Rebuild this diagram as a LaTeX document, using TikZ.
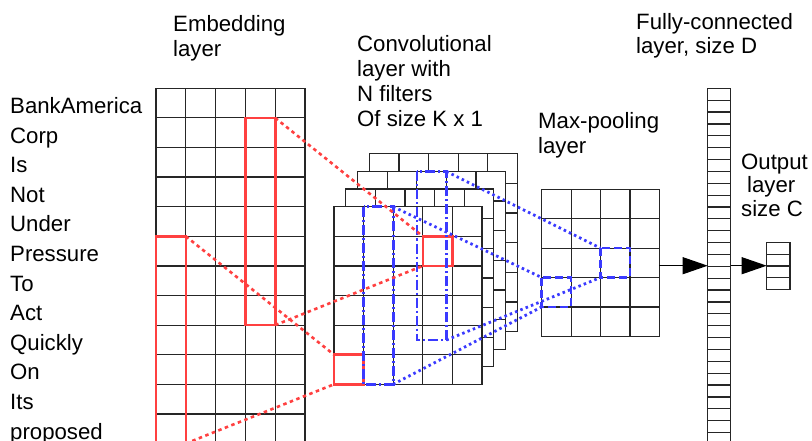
\documentclass[tikz,border=0pt]{standalone}
\usepackage{fontspec}
\setmainfont{Liberation Sans}
\usetikzlibrary{arrows.meta}
\definecolor{rd}{RGB}{255,64,64}
\definecolor{bl}{RGB}{58,58,255}
\tikzset{
  gridl/.style={draw=black!85, line width=1.2pt},
  redbox/.style={draw=rd, line width=2.6pt},
  redcon/.style={draw=rd, line width=2.6pt, dash pattern=on 3.5pt off 3.5pt},
  bluebox/.style={draw=bl, line width=2.6pt, dash pattern=on 10pt off 3pt on 2pt off 3pt},
  poolbox/.style={draw=bl, line width=2.6pt, dash pattern=on 8pt off 4pt},
  bluecon/.style={draw=bl, line width=2.8pt, dash pattern=on 2.5pt off 3.2pt},
  lbl/.style={inner sep=0pt, anchor=base west, font=\fontsize{22.2}{25}\selectfont},
  arr/.style={draw=black, line width=1.1pt, -{Triangle[length=25pt,width=17pt]}}
}
\begin{document}
\begin{tikzpicture}[x=1pt,y=-1pt]
\useasboundingbox (0,0) rectangle (812,441);
\clip (0,0) rectangle (812,441);
\fill[white] (0,0) rectangle (812,441);

% ---------- labels ----------
\node[lbl] (t1) at (173,32) {Embedding};
\node[lbl] (t2) at (173,57) {layer};
\node[lbl] (t3) at (357,51.7) {Convolutional};
\node[lbl] (t4) at (357,76.7) {layer with};
\node[lbl] (t5) at (357,101.7) {N filters};
\node[lbl] (t6) at (357,126.7) {Of size K x 1};
\node[lbl] (t7) at (538,128.3) {Max-pooling};
\node[lbl] (t8) at (538,153.3) {layer};
\node[lbl] (t9) at (636,29.3) {Fully-connected};
\node[lbl] (t10) at (636,54) {layer, size D};
\node[lbl] (t11) at (741,169.3) {Output};
\node[lbl] (t12) at (747,193) {layer};
\node[lbl] (t13) at (741,216.7) {size C};

\foreach \w [count=\i from 0] in {BankAmerica,Corp,Is,Not,Under,Pressure,To,Act,Quickly,On,Its,proposed}
  \node[lbl] (w\i) at (10,{113.5+\i*29.6}) {\w};

% ---------- embedding grid ----------
\draw[gridl] (156,88.3) rectangle (305,443.5);
\foreach \i in {1,...,4} \draw[gridl] ({156+\i*29.8},88.3) -- ({156+\i*29.8},443.5);
\foreach \j in {1,...,11} \draw[gridl] (156,{88.3+\j*29.6}) -- (305,{88.3+\j*29.6});

% ---------- convolutional sheets ----------
\foreach \k in {3,2,1,0} {
  \pgfmathsetmacro\ox{334+11.8*\k}
  \pgfmathsetmacro\oy{206.7-17.6*\k}
  \filldraw[gridl, fill=white] (\ox,\oy) rectangle ++(148,177.6);
  \foreach \i in {1,...,4} \draw[gridl] ({\ox+\i*29.6},\oy) -- ++(0,177.6);
  \foreach \j in {1,...,5} \draw[gridl] (\ox,{\oy+\j*29.6}) -- ++(148,0);
}

% ---------- max-pooling grid ----------
\draw[gridl] (541.7,189.3) rectangle (659.3,336.3);
\foreach \i in {1,...,3} \draw[gridl] ({541.7+\i*29.4},189.3) -- ({541.7+\i*29.4},336.3);
\foreach \j in {1,...,4} \draw[gridl] (541.7,{189.3+\j*29.4}) -- (659.3,{189.3+\j*29.4});

% ---------- fully connected ----------
\draw[gridl] (707.7,88.3) rectangle (730.7,445);
\foreach \j in {1,...,30} \draw[gridl] (707.7,{88.3+\j*11.87}) -- (730.7,{88.3+\j*11.87});

% ---------- output layer ----------
\draw[gridl] (766.7,242.7) rectangle (790,289.3);
\foreach \j in {1,...,3} \draw[gridl] (766.7,{242.7+\j*11.65}) -- (790,{242.7+\j*11.65});

% ---------- highlighted boxes ----------
\draw[redbox] (245.4,117.9) rectangle (275.2,325.1);
\draw[redbox] (156,236.3) rectangle (185.8,443.5);
\draw[redbox] (422.8,236.3) rectangle (452.4,265.9);
\draw[redbox] (334,354.7) rectangle (363.6,384.3);
\draw[bluebox] (363.6,206.7) rectangle (393.2,384.3);
\draw[bluebox] (416.8,171.5) rectangle (446.4,340);
\draw[poolbox] (600.5,248.1) rectangle (629.9,277.5);
\draw[poolbox] (541.7,277.5) rectangle (571.1,306.9);

% ---------- named corners ----------
\coordinate (e1tr) at (275.2,117.9);
\coordinate (e1br) at (275.2,325.1);
\coordinate (c1tl) at (422.8,236.3);
\coordinate (c1bl) at (422.8,265.9);
\coordinate (e2tr) at (185.8,236.3);
\coordinate (e2br) at (185.8,443.5);
\coordinate (c2tl) at (334,354.7);
\coordinate (c2bl) at (334,384.3);
\coordinate (b1tr) at (446.4,171.5);
\coordinate (b1br) at (446.4,340);
\coordinate (b2tr) at (393.2,206.7);
\coordinate (b2br) at (393.2,384.3);
\coordinate (m1tl) at (600.5,248.1);
\coordinate (m1bl) at (600.5,277.5);
\coordinate (m2tl) at (541.7,277.5);
\coordinate (m2bl) at (541.7,306.9);
\coordinate (mpr) at (659.3,265.7);
\coordinate (fcl) at (707.7,265.7);
\coordinate (fcr) at (730.7,265.7);
\coordinate (outl) at (766.7,265.7);

% ---------- connectors ----------
\draw[redcon] (e1tr) -- (c1tl);
\draw[redcon] (e1br) -- (c1bl);
\draw[redcon] (e2tr) -- (c2tl);
\draw[redcon] (e2br) -- (c2bl);
\draw[bluecon] (b1tr) -- (m1tl);
\draw[bluecon] (b1br) -- (m1bl);
\draw[bluecon] (b2tr) -- (m2tl);
\draw[bluecon] (b2br) -- (m2bl);
\draw[arr] (mpr) -- (fcl);
\draw[arr] (fcr) -- (outl);
\end{tikzpicture}
\end{document}
